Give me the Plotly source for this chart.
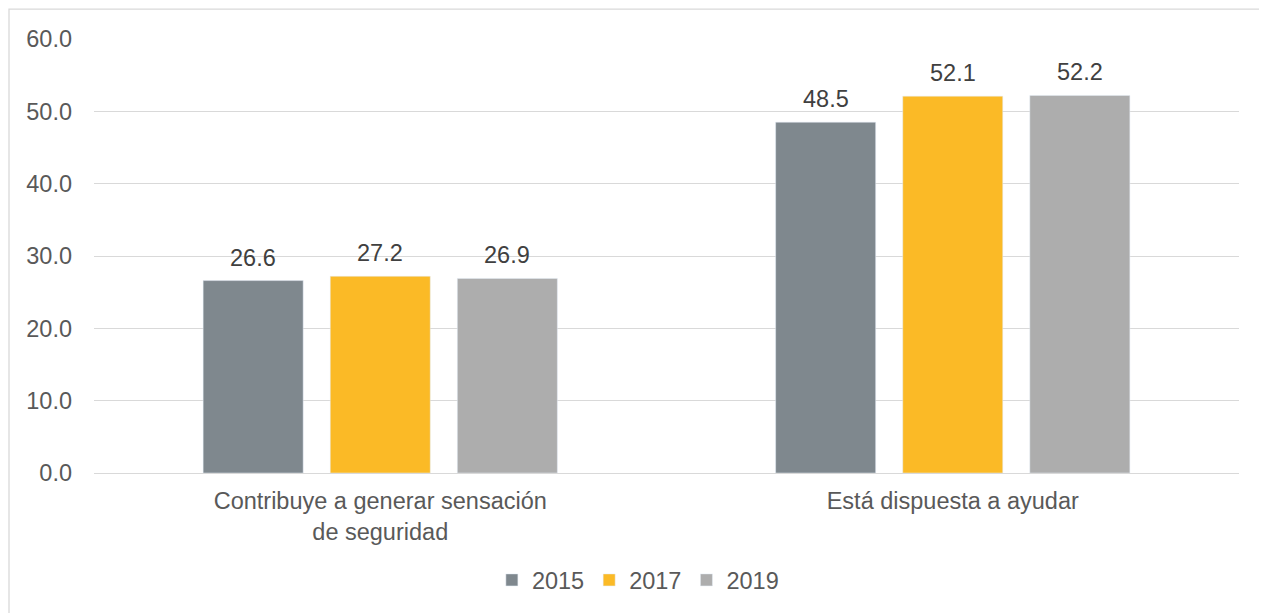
import plotly.graph_objects as go

categories = ["Contribuye a generar sensación<br>de seguridad", "Está dispuesta a ayudar"]
years = ["2015", "2017", "2019"]
v2015 = [26.6, 48.5]
v2017 = [27.2, 52.1]
v2019 = [26.9, 52.2]
colors = ["#7F888E", "#FBBA26", "#ADADAD"]

FS = 23.5
SLOT = 127  # px between bar centres within a group
fig = go.Figure()
for i, (name, vals, c) in enumerate(zip(years, [v2015, v2017, v2019], colors)):
    fig.add_trace(go.Bar(x=categories, y=vals, name=name, marker_color=c))
    for cat, v in zip(categories, vals):
        fig.add_annotation(x=cat, y=v, xref="x", yref="y", text=f"{v:.1f}",
                           showarrow=False, xshift=(i - 1) * SLOT, yshift=23,
                           yanchor="middle",
                           font=dict(size=FS, color="#404040"))

# page body has an 8px margin; compensate
W, H = 1259, 605
L, R, T, B = 86, 28, 31, 139
pw = W - L - R
ph = H - T - B
fig.update_layout(
    width=W, height=H,
    margin=dict(l=L, r=R, t=T, b=B),
    paper_bgcolor="white", plot_bgcolor="white",
    barmode="group", bargap=0.334, bargroupgap=0.213,
    font=dict(family="Liberation Sans, Arial", size=FS, color="#595959"),
    yaxis=dict(range=[0, 60], dtick=10, tickformat=".1f", showgrid=True,
               gridcolor="#D9D9D9", gridwidth=1.3, zeroline=False,
               showline=False, ticks="", ticklabelstandoff=21),
    xaxis=dict(showline=True, linecolor="#D9D9D9", linewidth=1.3, ticks="",
               ticklabelstandoff=7),
    legend=dict(orientation="h", x=0.475, xanchor="center", y=-0.244, yanchor="middle",
                font=dict(size=FS, color="#595959"), itemwidth=30,
                traceorder="normal"),
    showlegend=True,
)
fig.add_shape(type="rect", xref="paper", yref="paper",
              x0=(1 - L) / pw, x1=1.2, y0=-0.6, y1=(H - B - 1) / ph,
              line=dict(color="#D9D9D9", width=1.3), fillcolor="rgba(0,0,0,0)",
              layer="below")
fig.write_html("out.html")
